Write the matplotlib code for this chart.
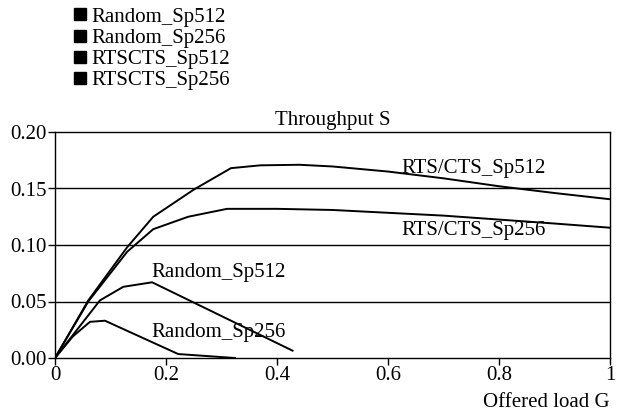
import matplotlib
matplotlib.use("Agg")
import matplotlib.pyplot as plt
from matplotlib.lines import Line2D

plt.rcParams['font.family'] = ['Liberation Serif', 'DejaVu Serif']

# Data
rts512_x = [0, 0.06, 0.13, 0.177, 0.25, 0.317, 0.37, 0.44, 0.5, 0.6, 0.7, 0.8, 0.9, 1.0]
rts512_y = [0, 0.051, 0.098, 0.125, 0.149, 0.168, 0.1705, 0.171, 0.1695, 0.165, 0.159, 0.152, 0.146, 0.1405]
rts256_x = [0, 0.06, 0.13, 0.177, 0.24, 0.31, 0.4, 0.5, 0.6, 0.7, 0.8, 0.9, 1.0]
rts256_y = [0, 0.050, 0.094, 0.114, 0.125, 0.132, 0.132, 0.131, 0.1285, 0.126, 0.1225, 0.119, 0.1153]
rnd512_x = [0, 0.081, 0.123, 0.175, 0.428]
rnd512_y = [0, 0.051, 0.063, 0.067, 0.0065]
rnd256_x = [0, 0.032, 0.063, 0.09, 0.222, 0.324]
rnd256_y = [0, 0.019, 0.032, 0.033, 0.0035, 0.0]

legend_labels = ['Random_Sp512', 'Random_Sp256', 'RTSCTS_Sp512', 'RTSCTS_Sp256']
xticks = [0, 0.2, 0.4, 0.6, 0.8, 1.0]
xtick_labels = ['0', '0.2', '0.4', '0.6', '0.8', '1']
yticks = [0.00, 0.05, 0.10, 0.15, 0.20]
ytick_labels = ['0.00', '0.05', '0.10', '0.15', '0.20']

fig = plt.figure(figsize=(6.17, 4.19), dpi=100)
ax = fig.add_axes([55/617, 61/419, 555/617, 226/419])

for xs, ys in [(rts512_x, rts512_y), (rts256_x, rts256_y), (rnd512_x, rnd512_y), (rnd256_x, rnd256_y)]:
    ax.plot(xs, ys, color='black', lw=1.4, zorder=3)

for y in [0.05, 0.10, 0.15]:
    ax.axhline(y, color='black', lw=1.0, zorder=1)

ax.set_xlim(0, 1)
ax.set_ylim(0, 0.20)
ax.set_xticks(xticks)
ax.set_xticklabels(xtick_labels)
ax.set_yticks(yticks)
ax.set_yticklabels(ytick_labels)
ax.tick_params(direction='out', length=5, width=1, labelsize=15, color='black', pad=1)
for s in ax.spines.values():
    s.set_linewidth(1.0)
    s.set_color('black')

ax.text(0.173, 0.076, 'Random_Sp512', fontsize=15, va='center', ha='left')
ax.text(0.173, 0.023, 'Random_Sp256', fontsize=15, va='center', ha='left')
ax.text(0.625, 0.168, 'RTS/CTS_Sp512', fontsize=15, va='center', ha='left')
ax.text(0.625, 0.113, 'RTS/CTS_Sp256', fontsize=15, va='center', ha='left')

ax.set_title('Throughput S', fontsize=15, pad=5)
fig.text(610/617, 1 - 402/419, 'Offered load G', fontsize=15, ha='right', va='center')

handles = [Line2D([], [], marker='s', color='black', ls='none', markersize=9) for _ in legend_labels]
fig.legend(handles, legend_labels, loc='upper left', bbox_to_anchor=(74/617, 1 - 7/419),
           frameon=False, fontsize=15, handlelength=0.6, handletextpad=0.25,
           labelspacing=0.08, borderaxespad=0, borderpad=0)

fig.savefig('out.png', dpi=100)
